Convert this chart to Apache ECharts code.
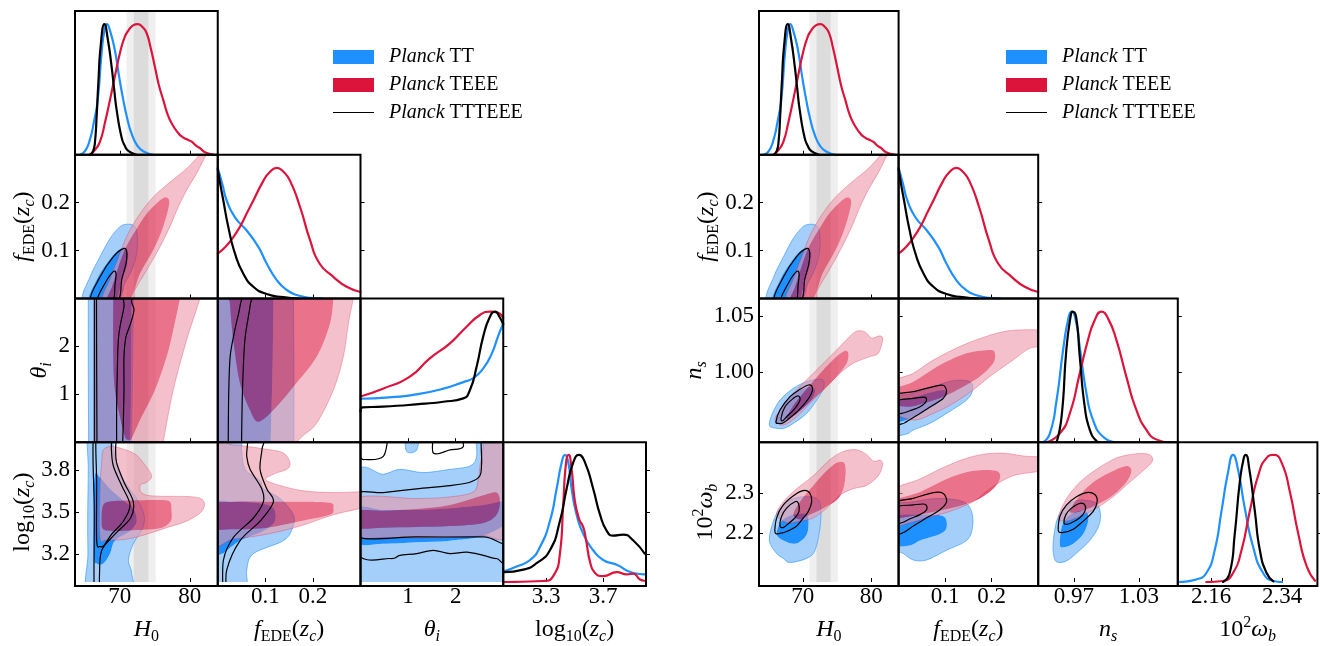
<!DOCTYPE html>
<html><head><meta charset="utf-8">
<script src="https://cdn.jsdelivr.net/npm/echarts@6/dist/echarts.min.js"></script>
<style>html,body{margin:0;padding:0;background:#fff}#c{width:1320px;height:646px}</style>
</head><body><div id="c"></div><script>
// ================= DATA =================
// tick values
const TICK_H0 = [70, 80];
const TICK_F = [0.1, 0.2];
const TICK_TH = [1, 2];
const TICK_LZ_X = [3.3, 3.7];
const TICK_LZ_Y = [3.2, 3.5, 3.8];
const TICK_NS_X = [0.97, 1.03];
const TICK_NS_Y = [1.00, 1.05];
const TICK_WB_X = [2.16, 2.34];
const TICK_WB_Y = [2.2, 2.3];
// SH0ES H0 bands
const H0_BAND_1SIG = [72.0, 74.08];
const H0_BAND_2SIG = [70.96, 75.12];
// legend labels
const LEGEND = ['TT', 'TEEE', 'TTTEEE'];

// ---- 1D marginals [x, normalized density] ----
const H0_TT = [[64.3,0],[65.0,0.025],[65.7,0.11],[66.3,0.25],[66.85,0.42],[67.4,0.78],[67.8,0.95],[68.15,1.0],[68.6,0.95],[69.3,0.8],[69.9,0.6],[70.5,0.42],[71.1,0.27],[71.7,0.16],[72.5,0.07],[73.4,0.025],[74.8,0]];
const H0_TEEE = [[65.7,0],[66.5,0.04],[67.17,0.1],[67.9,0.25],[68.6,0.42],[69.3,0.6],[70.03,0.78],[70.7,0.9],[71.22,0.95],[71.9,0.99],[72.56,1.0],[73.2,0.98],[73.84,0.93],[74.4,0.82],[75.03,0.67],[75.6,0.53],[76.21,0.42],[76.9,0.3],[77.64,0.22],[78.3,0.17],[78.84,0.14],[79.5,0.12],[80.27,0.1],[80.9,0.07],[81.46,0.05],[82.0,0.025],[82.64,0.01],[83.5,0]];
const H0_TTTEEE = [[65.8,0],[66.2,0.03],[66.46,0.1],[66.7,0.3],[66.93,0.545],[67.3,0.85],[67.8,1.0],[68.3,0.88],[68.84,0.67],[69.2,0.5],[69.56,0.34],[70.27,0.13],[70.7,0.07],[71.22,0.03],[72.4,0]];

const F_TT = [[0,1.0],[0.01,0.87],[0.0188,0.75],[0.0363,0.62],[0.0608,0.52],[0.0853,0.395],[0.1028,0.268],[0.124,0.141],[0.145,0.065],[0.166,0.027],[0.194,0.005],[0.22,0]];
const F_TEEE = [[0,0.343],[0.0328,0.47],[0.0678,0.70],[0.0958,0.90],[0.11,0.97],[0.124,1.0],[0.138,0.97],[0.152,0.90],[0.173,0.70],[0.194,0.446],[0.2139,0.268],[0.243,0.166],[0.271,0.09],[0.3,0.05]];
const F_TTTEEE = [[0,0.99],[0.006,0.86],[0.0117,0.75],[0.0222,0.547],[0.0363,0.343],[0.0538,0.19],[0.0748,0.09],[0.1028,0.034],[0.1378,0.01],[0.17,0]];

const TH_TT = [[0.0,0.333],[0.6,0.343],[1.17,0.367],[1.74,0.41],[2.16,0.46],[2.37,0.49],[2.58,0.565],[2.76,0.68],[2.9,0.82],[3.0,0.91]];
const TH_TEEE = [[0.0,0.35],[0.47,0.41],[1.03,0.50],[1.45,0.64],[1.88,0.757],[2.23,0.884],[2.51,0.974],[2.72,1.0],[2.89,0.99],[3.0,0.95]];
const TH_TTTEEE = [[0.0,0.234],[0.04,0.267],[0.47,0.272],[1.17,0.29],[1.74,0.31],[2.16,0.336],[2.30,0.40],[2.44,0.578],[2.58,0.81],[2.72,0.96],[2.83,1.0],[2.92,0.96],[3.0,0.90]];

const LZ_TT = [[3.005,0.084],[3.094,0.122],[3.187,0.173],[3.257,0.275],[3.327,0.48],[3.374,0.734],[3.409,0.939],[3.432,1.0],[3.456,0.939],[3.479,0.734],[3.514,0.53],[3.561,0.377],[3.63,0.25],[3.70,0.173],[3.795,0.135],[3.911,0.071],[3.99,0.06]];
const LZ_TEEE = [[3.0,0.0],[3.28,0.008],[3.35,0.046],[3.397,0.224],[3.42,0.607],[3.44,0.939],[3.458,1.0],[3.479,0.887],[3.5,0.65],[3.53,0.5],[3.561,0.43],[3.58,0.33],[3.61,0.15],[3.643,0.071],[3.70,0.046],[3.795,0.077],[3.865,0.06],[3.911,0.066],[3.958,0.02],[3.99,0.01]];
const LZ_TTTEEE = [[3.005,0.077],[3.14,0.097],[3.234,0.148],[3.327,0.25],[3.397,0.48],[3.444,0.734],[3.49,0.94],[3.53,1.0],[3.573,0.94],[3.63,0.734],[3.678,0.53],[3.725,0.403],[3.77,0.365],[3.84,0.373],[3.911,0.327],[3.99,0.224]];

const NS_TT = [[0.9416,0],[0.9478,0.068],[0.954,0.323],[0.960,0.706],[0.9646,0.935],[0.9678,1.0],[0.971,0.96],[0.9754,0.73],[0.9816,0.374],[0.9877,0.17],[0.997,0.042],[1.009,0]];
const NS_TEEE = [[0.9447,0],[0.957,0.068],[0.9662,0.22],[0.9754,0.527],[0.983,0.782],[0.9893,0.935],[0.9954,1.0],[1.0015,0.948],[1.0093,0.782],[1.0185,0.50],[1.0277,0.247],[1.037,0.094],[1.046,0.022],[1.058,0]];
const NS_TTTEEE = [[0.954,0],[0.9586,0.196],[0.963,0.706],[0.9669,0.96],[0.9687,1.0],[0.972,0.96],[0.9754,0.655],[0.980,0.272],[0.9847,0.094],[0.9908,0.01],[0.994,0]];

const WB_TT = [[2.0793,0],[2.122,0.02],[2.1475,0.071],[2.1688,0.25],[2.186,0.556],[2.2027,0.862],[2.2155,1.0],[2.228,0.887],[2.2454,0.58],[2.2666,0.275],[2.292,0.071],[2.318,0.008],[2.34,0]];
const WB_TEEE = [[2.1475,0],[2.19,0.008],[2.2155,0.071],[2.237,0.25],[2.258,0.556],[2.2793,0.836],[2.3008,0.977],[2.3195,1.0],[2.339,0.94],[2.36,0.71],[2.3815,0.377],[2.403,0.122],[2.424,0.01]];
const WB_TTTEEE = [[2.19,0],[2.207,0.071],[2.2198,0.377],[2.2326,0.786],[2.2428,0.977],[2.248,1.0],[2.2563,0.90],[2.271,0.556],[2.2837,0.25],[2.3008,0.071],[2.318,0.005]];

// ---- 2D contours [x, y] (95% and 68% boundaries) ----
const H0_F_TT_95 = [[64.79,-0.005],[65.74,0.045],[67.17,0.087],[68.6,0.125],[70.03,0.15],[71.22,0.155],[72.17,0.15],[72.5,0.129],[72.41,0.094],[71.7,0.059],[70.74,0.032],[69.55,-0.005]];
const H0_F_TT_68 = [[65.64,-0.005],[66.7,0.039],[68.13,0.073],[69.56,0.098],[70.74,0.107],[71.22,0.094],[70.98,0.066],[70.27,0.039],[69.3,-0.005]];
const H0_F_TE_95 = [[67.6,-0.005],[68.6,0.04],[69.9,0.09],[71.2,0.136],[72.89,0.177],[74.79,0.212],[77.17,0.243],[79.31,0.268],[81.21,0.297],[81.6,0.31],[82.5,0.31],[82.2,0.296],[80.98,0.261],[79.55,0.226],[78.36,0.191],[77.17,0.15],[75.5,0.101],[73.84,0.059],[72.17,0.018],[71.7,-0.005]];
const H0_F_TE_68 = [[68.3,-0.005],[68.9,0.025],[69.8,0.066],[70.9,0.108],[72.3,0.143],[73.84,0.177],[75.74,0.205],[76.7,0.211],[77.07,0.198],[76.21,0.15],[74.79,0.101],[72.89,0.052],[71.3,-0.005]];
const H0_F_ALL_95 = [[65.84,-0.005],[67.17,0.045],[69.07,0.087],[70.5,0.104],[70.98,0.098],[70.89,0.073],[70.27,0.039],[69.65,-0.005]];
const H0_F_ALL_68 = [[66.79,-0.005],[67.89,0.032],[69.07,0.056],[69.46,0.052],[69.31,0.028],[68.98,-0.005]];

const H0_TH_TT_95 = [[65.5,3.3],[71.95,3.3],[71.95,3.05],[71.86,1.8],[71.7,-0.05],[71.7,-0.3],[65.55,-0.3],[65.55,-0.05],[65.5,1.5],[65.5,3.05]];
const H0_TH_TT_68 = [[66.36,3.3],[71.7,3.3],[71.7,3.05],[71.65,1.5],[71.5,-0.05],[71.5,-0.3],[66.43,-0.3],[66.43,-0.05],[66.4,1.5],[66.36,3.05]];
const H0_TH_TE_95 = [[66.45,3.3],[81.9,3.3],[81.46,3.0],[79.55,2.13],[77.64,1.09],[76.21,0],[75.9,-0.3],[66.5,-0.3],[66.5,-0.05],[66.47,1.5],[66.45,3.05]];
const H0_TH_TE_68 = [[69.07,3.3],[78.8,3.3],[78.6,3.0],[77.64,2.34],[76.7,1.785],[75.03,1.09],[72.89,0.464],[71.7,0.08],[71.22,0.05],[70.74,0.116],[70.03,0.533],[69.31,1.09],[69.07,1.785],[69.07,3.05]];
const H0_TH_ALL_95 = [[66.36,3.3],[71.6,3.3],[71.7,2.93],[72.03,2.76],[71.55,2.48],[70.88,2.2],[70.6,1.785],[70.6,1.09],[70.5,0.395],[70.41,-0.05],[70.41,-0.3],[66.36,-0.3],[66.36,-0.05],[66.36,1.5],[66.36,3.05]];
const H0_TH_ALL_68 = [[66.67,3.3],[70.41,3.3],[70.45,3.05],[70.6,2.83],[70.12,2.48],[69.79,2.13],[69.64,1.44],[69.55,0.74],[69.55,-0.05],[69.55,-0.3],[66.74,-0.3],[66.74,-0.05],[66.7,1.5],[66.67,3.05]];

const F_TH_TT_95 = [[-0.02,3.3],[0.159,3.3],[0.159,3.05],[0.16,1.5],[0.16,-0.05],[0.16,-0.3],[-0.02,-0.3]];
const F_TH_TT_68 = [[-0.02,3.3],[0.117,3.3],[0.117,3.05],[0.1156,1.785],[0.1114,-0.05],[0.1114,-0.3],[-0.02,-0.3]];
const F_TH_TE_95 = [[-0.02,3.3],[0.29,3.3],[0.285,3.0],[0.275,2.5],[0.264,1.785],[0.243,1.09],[0.208,0.4],[0.175,0.1],[0.159,-0.1],[0.15,-0.3],[-0.02,-0.3]];
const F_TH_TE_68 = [[0.0257,3.3],[0.245,3.3],[0.243,3.0],[0.236,2.48],[0.208,1.785],[0.159,1.16],[0.117,0.673],[0.085,0.43],[0.0678,0.673],[0.0468,1.23],[0.0328,2.13],[0.0257,2.9]];
const F_TH_ALL_95 = [[-0.02,3.3],[0.07,3.3],[0.068,2.85],[0.057,2.13],[0.052,1.09],[0.05,-0.05],[0.05,-0.3],[-0.02,-0.3]];
const F_TH_ALL_68 = [[-0.02,3.3],[0.05,3.3],[0.047,2.85],[0.035,2.3],[0.026,1.78],[0.023,1.0],[0.022,-0.05],[0.022,-0.3],[-0.02,-0.3]];

const H0_LZ_TT_95 = [[65.5,2.9],[65.45,3.2],[65.41,3.435],[65.5,3.8],[65.55,4.1],[68.6,4.1],[69.1,3.95],[69.55,3.853],[70.74,3.714],[72.41,3.597],[73.46,3.481],[73.27,3.389],[71.93,3.273],[71.22,3.157],[71.7,3.064],[71.6,2.9]];
const H0_LZ_TT_68 = [[66.31,3.203],[66.36,3.737],[67.17,3.748],[68.6,3.667],[70.74,3.574],[71.93,3.528],[72.41,3.435],[71.46,3.365],[69.31,3.296],[68.6,3.203],[67.65,3.133],[66.7,3.133]];
const H0_LZ_TE_95 = [[67.17,3.319],[67.17,3.667],[67.41,3.853],[67.65,3.946],[69.08,3.969],[71.93,3.923],[73.36,3.853],[74.55,3.76],[73.84,3.714],[72.89,3.69],[73.84,3.621],[80.5,3.609],[82.03,3.574],[81.7,3.505],[79.55,3.435],[76.7,3.389],[73.84,3.342],[70.98,3.307],[68.12,3.30]];
const H0_LZ_TE_68 = [[67.41,3.435],[67.65,3.551],[69.08,3.579],[71.93,3.584],[75.74,3.586],[77.17,3.574],[77.41,3.505],[77.27,3.435],[75.74,3.384],[71.93,3.37],[69.08,3.365],[67.65,3.377]];
const H0_LZ_ALL_95 = [[66.36,2.9],[66.36,3.5],[66.36,4.1],[69.31,4.1],[69.4,3.95],[69.55,3.853],[70.6,3.714],[71.93,3.574],[71.55,3.458],[69.31,3.342],[67.41,3.226],[67.1,3.05],[67.08,2.9]];
const H0_LZ_ALL_68 = [[66.7,4.1],[66.7,3.7],[66.7,3.296],[67.17,3.254],[67.74,3.261],[68.84,3.342],[70.5,3.435],[71.46,3.551],[70.27,3.69],[69.08,3.83],[68.8,3.95],[68.7,4.1]];

const F_LZ_TT_95 = [[-0.015,2.9],[-0.015,4.1],[0.0469,4.1],[0.05,3.95],[0.0574,3.806],[0.0889,3.725],[0.0959,3.667],[0.131,3.597],[0.159,3.481],[0.1575,3.389],[0.138,3.296],[0.0749,3.203],[0.0609,3.087],[0.0574,2.9]];
const F_LZ_TT_68 = [[-0.015,3.226],[-0.015,3.551],[0.0329,3.574],[0.0889,3.563],[0.117,3.528],[0.12,3.435],[0.0959,3.365],[0.0469,3.296],[0.0189,3.226],[0.0084,3.203]];
const F_LZ_TE_95 = [[-0.015,3.296],[-0.015,3.969],[0.0329,3.98],[0.1029,3.95],[0.138,3.923],[0.152,3.853],[0.145,3.806],[0.117,3.771],[0.1029,3.725],[0.173,3.656],[0.2429,3.64],[0.32,3.64],[0.32,3.551],[0.2429,3.481],[0.173,3.4],[0.1029,3.342],[0.0329,3.307]];
const F_LZ_TE_68 = [[-0.015,3.389],[-0.015,3.551],[0.0329,3.574],[0.1029,3.574],[0.173,3.574],[0.236,3.567],[0.2429,3.528],[0.236,3.481],[0.173,3.435],[0.1029,3.389],[0.0329,3.377]];
const F_LZ_ALL_95 = [[-0.015,4.1],[0.0959,4.1],[0.093,3.95],[0.0889,3.806],[0.1029,3.667],[0.117,3.574],[0.0889,3.435],[0.0469,3.296],[0.0189,3.087],[0.0154,2.9],[-0.015,2.9]];
const F_LZ_ALL_68 = [[-0.015,4.1],[0.0574,4.1],[0.0609,3.9],[0.0679,3.806],[0.0924,3.667],[0.0959,3.574],[0.0749,3.458],[0.0329,3.319],[0.0119,3.157],[0.0084,2.9],[-0.015,2.9]];

const TH_LZ_TT_95 = [[-0.1,3.76],[0.48,3.771],[0.83,3.806],[1.32,3.783],[1.88,3.806],[2.30,3.83],[2.44,3.899],[2.477,4.1],[3.1,4.1],[3.1,2.9],[-0.1,2.9]];
const TH_LZ_TT_95B = [[0.97,4.1],[0.95,3.95],[1.08,3.925],[1.2,3.96],[1.22,4.1]];
const TH_LZ_TT_68 = [[-0.1,3.284],[-0.1,3.528],[0.48,3.516],[1.18,3.516],[1.88,3.528],[2.58,3.551],[3.1,3.574],[3.1,3.435],[2.58,3.331],[1.88,3.296],[1.18,3.284],[0.48,3.273]];
const TH_LZ_TE_95 = [[-0.1,3.331],[-0.1,3.597],[1.18,3.597],[1.88,3.609],[2.37,3.644],[2.477,3.737],[2.51,3.83],[2.58,3.969],[2.6,4.1],[3.1,4.1],[3.1,3.365],[2.58,3.331],[1.88,3.319],[1.18,3.314],[0.48,3.319]];
const TH_LZ_TE_68 = [[-0.1,3.389],[-0.1,3.505],[0.48,3.51],[1.18,3.523],[1.88,3.551],[2.58,3.621],[2.86,3.64],[2.93,3.574],[2.86,3.481],[2.58,3.423],[1.88,3.4],[1.18,3.393],[0.48,3.389]];
const TH_LZ_ALL_95 = [[-0.1,3.226],[0.62,3.168],[0.83,3.191],[1.18,3.203],[1.53,3.226],[1.88,3.203],[2.23,3.214],[2.58,3.191],[2.86,3.168],[3.1,3.203],[3.1,4.1],[2.16,4.1],[2.16,3.969],[1.88,3.946],[1.53,3.923],[1.46,4.1],[0.69,4.1],[0.48,3.899],[0.059,3.876],[-0.1,3.876]];
const TH_LZ_ALL_68 = [[-0.1,3.621],[0.48,3.64],[1.18,3.667],[1.88,3.69],[2.30,3.714],[2.51,3.76],[2.546,3.853],[2.58,4.1],[3.1,4.1],[3.1,3.331],[2.58,3.323],[1.18,3.323],[-0.1,3.331]];

const H0_NS_TT_95 = [[65.11,0.9524],[65.45,0.9614],[66.67,0.9749],[68.62,0.9854],[70.57,0.9914],[72.52,0.9935],[73.1,0.9914],[72.91,0.9839],[72.03,0.9749],[70.57,0.9629],[68.62,0.9539],[67.16,0.9494],[65.7,0.95]];
const H0_NS_TT_68 = [[65.94,0.9554],[66.67,0.9659],[68.13,0.9779],[69.59,0.9839],[71.06,0.9869],[71.79,0.9839],[71.3,0.9749],[69.84,0.9659],[68.13,0.9584],[66.67,0.9539]];
const H0_NS_TE_95 = [[65.94,0.9569],[66.67,0.9659],[68.62,0.9809],[71.54,0.9989],[74.47,1.0169],[77.39,1.0349],[78.61,1.0369],[79.34,1.0349],[80.07,1.0304],[81.29,1.0325],[81.68,1.0289],[81.05,1.0169],[79.83,1.0139],[77.39,1.0079],[75.44,0.9989],[73.49,0.9869],[71.54,0.9749],[69.11,0.9599],[67.16,0.9524]];
const H0_NS_TE_68 = [[67.64,0.9584],[68.86,0.9719],[71.06,0.9884],[73.0,1.0019],[74.95,1.0139],[76.17,1.019],[76.66,1.0169],[76.42,1.0079],[74.95,0.9959],[73.0,0.9839],[71.06,0.9734],[69.11,0.9629]];
const H0_NS_ALL_95 = [[66.09,0.9554],[66.67,0.9659],[68.13,0.9779],[69.59,0.9845],[70.81,0.9884],[71.4,0.9863],[71.15,0.9794],[70.08,0.9704],[68.62,0.9614],[67.16,0.9545],[66.43,0.9539]];
const H0_NS_ALL_68 = [[66.82,0.9584],[67.4,0.9689],[68.62,0.9764],[69.35,0.9785],[69.59,0.9749],[68.86,0.9674],[67.64,0.9599],[67.06,0.9563]];

const F_NS_TT_95 = [[-0.015,0.945],[-0.015,0.9749],[0.0316,0.9809],[0.0746,0.9869],[0.1175,0.9923],[0.1532,0.9914],[0.1589,0.9839],[0.146,0.9749],[0.1031,0.9629],[0.0674,0.954],[0.0316,0.948],[0.0173,0.9444]];
const F_NS_TT_68 = [[-0.015,0.9555],[-0.015,0.9719],[0.0316,0.9773],[0.0746,0.9824],[0.096,0.9839],[0.1031,0.9809],[0.0889,0.9734],[0.0602,0.9659],[0.0316,0.9599],[0.0102,0.956]];
const F_NS_TE_95 = [[-0.015,0.9659],[-0.015,0.9899],[0.0316,0.9989],[0.0746,1.0108],[0.1389,1.0243],[0.2104,1.0348],[0.2605,1.0378],[0.32,1.0363],[0.32,1.0243],[0.282,1.0213],[0.2462,1.0108],[0.1961,0.996],[0.1603,0.9839],[0.1175,0.9719],[0.0746,0.9629],[0.0316,0.957]];
const F_NS_TE_68 = [[-0.015,0.9719],[-0.015,0.9839],[0.0316,0.9914],[0.0889,1.0063],[0.146,1.0168],[0.1961,1.0198],[0.2069,1.0168],[0.2033,1.0078],[0.1746,0.9959],[0.1389,0.9869],[0.096,0.9779],[0.0531,0.9719],[0.0245,0.9689]];
const F_NS_ALL_95 = [[-0.015,0.954],[-0.015,0.9779],[0.0316,0.9824],[0.0746,0.9869],[0.096,0.9881],[0.1031,0.9824],[0.096,0.9764],[0.0746,0.9704],[0.0459,0.9629],[0.0173,0.9555],[0.0066,0.9534]];
const F_NS_ALL_68 = [[-0.015,0.9629],[-0.015,0.9734],[0.0316,0.9764],[0.0567,0.9773],[0.0588,0.9734],[0.0459,0.9689],[0.0245,0.9653],[0.0066,0.9629]];

const H0_WB_TT_95 = [[65.11,2.1803],[65.7,2.2297],[66.67,2.2626],[68.13,2.2832],[70.08,2.2915],[72.03,2.2873],[72.62,2.2626],[72.52,2.2133],[71.79,2.1557],[70.57,2.135],[68.13,2.1244],[67.16,2.135],[66.18,2.1474]];
const H0_WB_TT_68 = [[66.18,2.1968],[66.91,2.2297],[68.62,2.2462],[70.57,2.2462],[70.81,2.2133],[70.33,2.1886],[68.86,2.1721],[67.16,2.1803]];
const H0_WB_TE_95 = [[66.18,2.2462],[67.16,2.279],[69.11,2.312],[71.54,2.345],[73.98,2.386],[75.93,2.4067],[77.88,2.4108],[79.34,2.3985],[80.32,2.382],[81.29,2.3845],[81.68,2.3738],[81.05,2.345],[79.34,2.3203],[77.39,2.312],[75.44,2.2955],[73.49,2.2626],[71.54,2.238],[69.59,2.2297],[67.64,2.2256]];
const H0_WB_TE_68 = [[68.62,2.2462],[69.59,2.279],[71.54,2.3203],[73.49,2.3573],[74.95,2.3779],[76.03,2.3779],[76.27,2.3532],[75.93,2.312],[74.95,2.2832],[73.0,2.2626],[71.06,2.2462],[69.59,2.2338]];
const H0_WB_ALL_95 = [[65.94,2.2009],[66.18,2.238],[67.16,2.2709],[69.11,2.2997],[70.33,2.3079],[71.06,2.2997],[71.3,2.279],[70.81,2.2544],[70.08,2.238],[69.11,2.2174],[67.64,2.2034],[66.67,2.1985]];
const H0_WB_ALL_68 = [[66.67,2.2174],[66.91,2.242],[67.64,2.2626],[68.86,2.279],[69.35,2.2749],[69.45,2.2544],[68.86,2.238],[67.88,2.2231],[67.16,2.2133]];

const F_WB_TT_95 = [[-0.015,2.1639],[-0.015,2.2626],[0.0316,2.279],[0.0889,2.2873],[0.1389,2.279],[0.1568,2.2544],[0.1589,2.2133],[0.146,2.1803],[0.1031,2.1557],[0.0602,2.1309],[0.0316,2.1309],[0.0102,2.1474]];
const F_WB_TT_68 = [[-0.015,2.1721],[-0.015,2.238],[0.0459,2.2462],[0.096,2.242],[0.1031,2.2133],[0.0889,2.1968],[0.0459,2.1803],[0.0245,2.168]];
const F_WB_TE_95 = [[-0.015,2.2215],[-0.015,2.3038],[0.0459,2.3367],[0.1031,2.3697],[0.1603,2.3943],[0.2176,2.4026],[0.2748,2.3943],[0.32,2.3902],[0.32,2.3614],[0.2462,2.345],[0.1961,2.312],[0.1603,2.279],[0.1103,2.2544],[0.0602,2.238],[0.0245,2.2256]];
const F_WB_TE_68 = [[-0.015,2.238],[-0.015,2.279],[0.0459,2.3038],[0.1031,2.3367],[0.1603,2.3573],[0.2104,2.3573],[0.2176,2.3367],[0.2033,2.312],[0.1746,2.2873],[0.1389,2.2709],[0.096,2.2585],[0.0459,2.2462]];
const F_WB_ALL_95 = [[-0.015,2.1968],[-0.015,2.2709],[0.0316,2.2873],[0.0746,2.3022],[0.096,2.2997],[0.1031,2.279],[0.0889,2.2585],[0.0602,2.238],[0.0316,2.2174],[0.0102,2.2009]];
const F_WB_ALL_68 = [[-0.015,2.2215],[-0.015,2.2626],[0.0316,2.2709],[0.0567,2.2725],[0.0602,2.2585],[0.0459,2.2462],[0.0245,2.2355],[0.0066,2.2256]];

const NS_WB_TT_95 = [[0.951,2.1474],[0.951,2.1803],[0.954,2.2297],[0.9602,2.2626],[0.9694,2.279],[0.9786,2.2832],[0.9909,2.2749],[0.9946,2.2462],[0.9924,2.2133],[0.9847,2.1803],[0.9755,2.1557],[0.9632,2.1285],[0.954,2.126]];
const NS_WB_TT_68 = [[0.9571,2.168],[0.9586,2.2133],[0.9632,2.238],[0.9724,2.2544],[0.9817,2.2528],[0.9832,2.2297],[0.9786,2.1968],[0.9694,2.1721],[0.9617,2.1639]];
const NS_WB_TE_95 = [[0.9556,2.238],[0.9632,2.2873],[0.9755,2.3285],[0.9909,2.3614],[1.0093,2.3902],[1.0278,2.4009],[1.0401,2.3985],[1.0425,2.382],[1.0355,2.3614],[1.0216,2.3285],[1.0062,2.2915],[0.9909,2.2626],[0.9755,2.242],[0.9632,2.2297]];
const NS_WB_TE_68 = [[0.9663,2.2544],[0.9755,2.2955],[0.9878,2.3285],[1.0032,2.3532],[1.0185,2.3697],[1.0232,2.3573],[1.0185,2.3285],[1.0062,2.2955],[0.9909,2.2709],[0.9755,2.2544]];
const NS_WB_ALL_95 = [[0.9556,2.205],[0.9571,2.242],[0.9632,2.2709],[0.9724,2.2915],[0.9817,2.3022],[0.9893,2.2972],[0.9915,2.279],[0.9878,2.2544],[0.9786,2.2297],[0.9694,2.2091],[0.9602,2.2009]];
const NS_WB_ALL_68 = [[0.9608,2.2256],[0.9626,2.2462],[0.9678,2.2626],[0.9755,2.2749],[0.9801,2.2709],[0.9801,2.2544],[0.9755,2.238],[0.9678,2.2256],[0.9632,2.2215]];

// ================= LAYOUT / STYLE =================
const SERIF = "'Liberation Serif','DejaVu Serif',serif";
const C_TT = '#1E90FF', C_TE = '#DC143C', C_ALL = '#000000';
const TT_LIGHT = '#a3cffa';
const TE_OUT = 'rgba(235,150,168,0.6)', TE_IN = 'rgba(220,20,60,0.6)';
const LX = [75, 217.75, 360.5, 503.25, 646];
const RX = [759, 898.6, 1038.2, 1177.8, 1317.4];
const RY = [11, 154.75, 298.5, 442.25, 586];

const AXES = {
  H0: {min: 63.6, max: 84, xt: TICK_H0, yt: TICK_H0, xd: 0, yd: 0, name: '{i|H}{sr|0}'},
  f:  {min: 0, max: 0.3, xt: TICK_F, yt: TICK_F, xd: 1, yd: 1, name: '{i|f}{sr|EDE}{r|(}{i|z}{si|c}{r|)}'},
  th: {min: 0, max: 3, xt: TICK_TH, yt: TICK_TH, xd: 0, yd: 0, name: '{i|θ}{si|i}'},
  L:  {min: 3, max: 4, xt: TICK_LZ_X, yt: TICK_LZ_Y, xd: 1, yd: 1, name: '{r|log}{sr|10}{r|(}{i|z}{si|c}{r|)}'},
  ns: {min: 0.937, max: 1.066, xt: TICK_NS_X, yt: TICK_NS_Y, xd: 2, yd: 2, name: '{i|n}{si|s}'},
  wb: {min: 2.075, max: 2.43, xt: TICK_WB_X, yt: TICK_WB_Y, xd: 2, yd: 1, name: '{r|10}{sup|2}{i|ω}{si|b}'}
};
const RICH = {
  i: {fontFamily: SERIF, fontStyle: 'italic', fontSize: 24, lineHeight: 30, color: '#000'},
  r: {fontFamily: SERIF, fontSize: 24, lineHeight: 30, color: '#000'},
  si: {fontFamily: SERIF, fontStyle: 'italic', fontSize: 16, lineHeight: 15, verticalAlign: 'bottom', color: '#000'},
  sr: {fontFamily: SERIF, fontSize: 16, lineHeight: 15, verticalAlign: 'bottom', color: '#000'},
  sup: {fontFamily: SERIF, fontSize: 16, lineHeight: 15, verticalAlign: 'top', color: '#000'}
};

const D1 = {
  H0: [H0_TT, H0_TEEE, H0_TTTEEE], f: [F_TT, F_TEEE, F_TTTEEE], th: [TH_TT, TH_TEEE, TH_TTTEEE],
  L: [LZ_TT, LZ_TEEE, LZ_TTTEEE], ns: [NS_TT, NS_TEEE, NS_TTTEEE], wb: [WB_TT, WB_TEEE, WB_TTTEEE]
};
const D2 = {
  'H0|f': {TT: [H0_F_TT_95, H0_F_TT_68], TE: [H0_F_TE_95, H0_F_TE_68], ALL: [H0_F_ALL_95, H0_F_ALL_68]},
  'H0|th': {TT: [H0_TH_TT_95, H0_TH_TT_68], TE: [H0_TH_TE_95, H0_TH_TE_68], ALL: [H0_TH_ALL_95, H0_TH_ALL_68]},
  'f|th': {TT: [F_TH_TT_95, F_TH_TT_68], TE: [F_TH_TE_95, F_TH_TE_68], ALL: [F_TH_ALL_95, F_TH_ALL_68]},
  'H0|L': {TT: [H0_LZ_TT_95, H0_LZ_TT_68], TE: [H0_LZ_TE_95, H0_LZ_TE_68], ALL: [H0_LZ_ALL_95, H0_LZ_ALL_68]},
  'f|L': {TT: [F_LZ_TT_95, F_LZ_TT_68], TE: [F_LZ_TE_95, F_LZ_TE_68], ALL: [F_LZ_ALL_95, F_LZ_ALL_68]},
  'th|L': {TT: [TH_LZ_TT_95, TH_LZ_TT_68], TTB: TH_LZ_TT_95B, TE: [TH_LZ_TE_95, TH_LZ_TE_68], ALL: [TH_LZ_ALL_95, TH_LZ_ALL_68]},
  'H0|ns': {TT: [H0_NS_TT_95, H0_NS_TT_68], TE: [H0_NS_TE_95, H0_NS_TE_68], ALL: [H0_NS_ALL_95, H0_NS_ALL_68]},
  'f|ns': {TT: [F_NS_TT_95, F_NS_TT_68], TE: [F_NS_TE_95, F_NS_TE_68], ALL: [F_NS_ALL_95, F_NS_ALL_68]},
  'H0|wb': {TT: [H0_WB_TT_95, H0_WB_TT_68], TE: [H0_WB_TE_95, H0_WB_TE_68], ALL: [H0_WB_ALL_95, H0_WB_ALL_68]},
  'f|wb': {TT: [F_WB_TT_95, F_WB_TT_68], TE: [F_WB_TE_95, F_WB_TE_68], ALL: [F_WB_ALL_95, F_WB_ALL_68]},
  'ns|wb': {TT: [NS_WB_TT_95, NS_WB_TT_68], TE: [NS_WB_TE_95, NS_WB_TE_68], ALL: [NS_WB_ALL_95, NS_WB_ALL_68]}
};

// ================= HELPERS =================
function ringPath(px) {
  const n = px.length, t = 0.16;
  let d = 'M' + px[0][0].toFixed(2) + ' ' + px[0][1].toFixed(2);
  for (let k = 0; k < n; k++) {
    const p0 = px[(k - 1 + n) % n], p1 = px[k], p2 = px[(k + 1) % n], p3 = px[(k + 2) % n];
    const v = [p1[0] + (p2[0] - p0[0]) * t, p1[1] + (p2[1] - p0[1]) * t,
               p2[0] - (p3[0] - p1[0]) * t, p2[1] - (p3[1] - p1[1]) * t, p2[0], p2[1]];
    d += ' C' + v.map(x => x.toFixed(2)).join(' ');
  }
  return d + ' Z';
}
function signedArea(px) {
  let a = 0;
  for (let k = 0; k < px.length; k++) { const p = px[k], q = px[(k + 1) % px.length]; a += p[0] * q[1] - q[0] * p[1]; }
  return a;
}
function contourSeries(xi, yi, outer, inner, kind) {
  return {
    type: 'custom', coordinateSystem: 'cartesian2d', xAxisIndex: xi, yAxisIndex: yi,
    clip: true, silent: true, z: 3, data: [outer[0]],
    renderItem: (params, api) => {
      const o = outer.map(p => api.coord(p));
      const ch = [];
      if (kind === 'ALL') {
        ch.push({type: 'path', shape: {pathData: ringPath(o)}, style: {fill: 'none', stroke: C_ALL, lineWidth: 1.2}});
        if (inner) ch.push({type: 'path', shape: {pathData: ringPath(inner.map(p => api.coord(p)))}, style: {fill: 'none', stroke: C_ALL, lineWidth: 1.2}});
      } else {
        const outFill = kind === 'TT' ? TT_LIGHT : TE_OUT;
        const inFill = kind === 'TT' ? C_TT : TE_IN;
        const edge = kind === 'TT' ? 'rgba(30,144,255,0.7)' : 'rgba(220,20,60,0.35)';
        let d = ringPath(o);
        let ip = null;
        if (inner) {
          ip = inner.map(p => api.coord(p));
          const h = ip.slice();
          if (Math.sign(signedArea(h)) === Math.sign(signedArea(o))) h.reverse();
          d += ' ' + ringPath(h);
        }
        ch.push({type: 'path', shape: {pathData: d}, style: {fill: outFill, stroke: 'none'}});
        if (ip) ch.push({type: 'path', shape: {pathData: ringPath(ip)}, style: {fill: inFill, stroke: 'none'}});
        ch.push({type: 'path', shape: {pathData: ringPath(o)}, style: {fill: 'none', stroke: edge, lineWidth: 0.8}});
      }
      return {type: 'group', children: ch};
    }
  };
}
function bandSeries(xi, yi, yr) {
  return {
    type: 'custom', coordinateSystem: 'cartesian2d', xAxisIndex: xi, yAxisIndex: yi,
    clip: true, silent: true, z: 1, data: [[H0_BAND_1SIG[0], yr[0]]],
    renderItem: (params, api) => {
      const mk = (b, col) => {
        const a = api.coord([b[0], yr[1]]), c = api.coord([b[1], yr[0]]);
        return {type: 'rect', shape: {x: a[0], y: a[1], width: c[0] - a[0], height: c[1] - a[1]}, style: {fill: col}};
      };
      return {type: 'group', children: [mk(H0_BAND_2SIG, '#efefef'), mk(H0_BAND_1SIG, '#dcdcdc')]};
    }
  };
}

// ================= BUILD =================
const grids = [], xAxes = [], yAxes = [], series = [], graphics = [];
function fmt(d) { return v => Number(v).toFixed(d); }

function addPlot(XS, VARS, yGaps) {
  for (let r = 0; r < 4; r++) {
    for (let c = 0; c <= r; c++) {
      const gi = grids.length;
      const vx = AXES[VARS[c]], vy = AXES[VARS[r]];
      grids.push({left: XS[c], top: RY[r], width: XS[c + 1] - XS[c], height: RY[r + 1] - RY[r], containLabel: false});
      graphics.push({type: 'rect', z: 100, silent: true,
        shape: {x: XS[c], y: RY[r], width: XS[c + 1] - XS[c], height: RY[r + 1] - RY[r]},
        style: {fill: 'none', stroke: '#000', lineWidth: 2}});
      const xi = xAxes.length;
      xAxes.push({
        gridIndex: gi, type: 'value', min: vx.min, max: vx.max,
        axisLine: {show: false}, splitLine: {show: false},
        axisTick: {show: true, inside: true, length: 4, customValues: vx.xt, lineStyle: {color: '#000', width: 1}},
        axisLabel: {show: r === 3, customValues: vx.xt, formatter: fmt(vx.xd), margin: 3, color: '#000', fontSize: 23, fontFamily: SERIF},
        name: r === 3 ? vx.name : '', nameLocation: 'middle', nameGap: 33,
        nameTextStyle: {rich: RICH}
      });
      if (r === c) {
        const yi = yAxes.length;
        yAxes.push({gridIndex: gi, type: 'value', min: 0, max: 1.1, show: false});
        if (r > 0) {
          yAxes.push({gridIndex: gi, type: 'value', min: vy.min, max: vy.max,
            axisLine: {show: false}, splitLine: {show: false}, axisLabel: {show: false},
            axisTick: {show: true, inside: false, length: 4, customValues: vy.yt, lineStyle: {color: '#000'}}});
        }
        if (c === 0) series.push(bandSeries(xi, yi, [0, 1.1]));
        const cols = [C_TT, C_TE, C_ALL];
        D1[VARS[c]].forEach((arr, k) => series.push({
          type: 'line', xAxisIndex: xi, yAxisIndex: yi, data: arr, smooth: 0.55,
          showSymbol: false, symbol: 'none', clip: true, silent: true, z: 4,
          lineStyle: {color: cols[k], width: 2.2, cap: 'round', join: 'round'}, itemStyle: {color: cols[k]}
        }));
      } else {
        const yi = yAxes.length;
        yAxes.push({
          gridIndex: gi, type: 'value', min: vy.min, max: vy.max,
          axisLine: {show: false}, splitLine: {show: false},
          axisTick: {show: true, inside: true, length: 4, customValues: vy.yt, lineStyle: {color: '#000', width: 1}},
          axisLabel: {show: c === 0, customValues: vy.yt, formatter: fmt(vy.yd), margin: 5, color: '#000', fontSize: 23, fontFamily: SERIF},
          name: c === 0 ? vy.name : '', nameLocation: 'middle', nameRotate: 90, nameGap: yGaps[VARS[r]] || 35,
          nameTextStyle: {rich: RICH}
        });
        if (c === 0) series.push(bandSeries(xi, yi, [vy.min, vy.max]));
        const set = D2[VARS[c] + '|' + VARS[r]];
        series.push(contourSeries(xi, yi, set.TT[0], set.TT[1], 'TT'));
        if (set.TTB) series.push(contourSeries(xi, yi, set.TTB, null, 'TT'));
        series.push(contourSeries(xi, yi, set.TE[0], set.TE[1], 'TE'));
        series.push(contourSeries(xi, yi, set.ALL[0], set.ALL[1], 'ALL'));
      }
    }
  }
}
addPlot(LX, ['H0', 'f', 'th', 'L'], {f: 28, th: 12, L: 36});
addPlot(RX, ['H0', 'f', 'ns', 'wb'], {f: 34, ns: 45, wb: 38});

function addLegend(x0, tx) {
  const rows = [57, 85, 112.5];
  graphics.push({type: 'rect', z: 100, shape: {x: x0, y: 50, width: 41, height: 14}, style: {fill: C_TT}});
  graphics.push({type: 'rect', z: 100, shape: {x: x0, y: 78, width: 41, height: 14}, style: {fill: C_TE}});
  graphics.push({type: 'line', z: 100, shape: {x1: x0, y1: 112.5, x2: x0 + 41, y2: 112.5}, style: {stroke: '#000', lineWidth: 1}});
  LEGEND.forEach((s, k) => graphics.push({
    type: 'text', z: 100, x: tx, y: rows[k],
    style: {text: '{p|Planck} ' + s, fontFamily: SERIF, fontSize: 20, fill: '#000', verticalAlign: 'middle', align: 'left',
            rich: {p: {fontFamily: SERIF, fontSize: 20, fontStyle: 'italic', fill: '#000'}}}
  }));
}
addLegend(333, 389);
addLegend(1006, 1062);

const chart = echarts.init(document.getElementById('c'), null, {renderer: 'canvas'});
chart.setOption({
  animation: false, backgroundColor: '#fff',
  grid: grids, xAxis: xAxes, yAxis: yAxes, series: series, graphic: graphics
});
</script></body></html>
